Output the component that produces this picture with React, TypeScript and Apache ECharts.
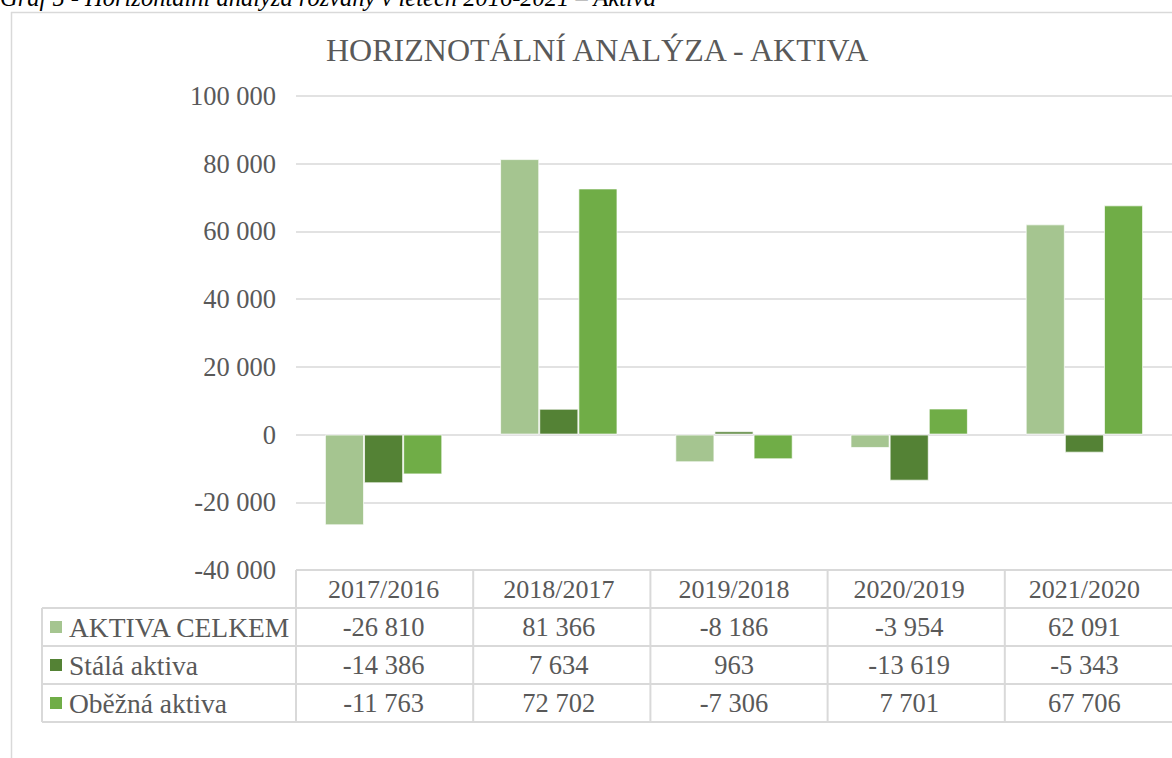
import React, { useEffect, useRef } from "react";
import * as echarts from "echarts";

const categories = ["2017/2016", "2018/2017", "2019/2018", "2020/2019", "2021/2020"];
const seriesNames = ["AKTIVA CELKEM", "Stálá aktiva", "Oběžná aktiva"];
const aktivaCelkem = [-26810, 81366, -8186, -3954, 62091];
const stalaAktiva = [-14386, 7634, 963, -13619, -5343];
const obeznaAktiva = [-11763, 72702, -7306, 7701, 67706];
const seriesColors = ["#A5C590", "#548235", "#70AD47"];
const yMin = -40000;
const yMax = 100000;
const yInterval = 20000;
const titleText = "HORIZNOTÁLNÍ ANALÝZA - AKTIVA";
const captionText = "Graf 5 - Horizontální analýza rozvahy v letech 2016-2021 – Aktiva";

const FONT = "'Liberation Serif', 'Times New Roman', serif";
const TXT = "#595959";
const LINE = "#D9D9D9";

function fmt(n: number): string {
  const s = Math.abs(n).toString().replace(/\B(?=(\d{3})+(?!\d))/g, " ");
  return (n < 0 ? "-" : "") + s;
}

export default function App() {
  const ref = useRef<HTMLDivElement>(null);
  useEffect(() => {
    if (!ref.current) return;
    const chart = echarts.init(ref.current, null, { renderer: "svg" });
    const allSeries = [aktivaCelkem, stalaAktiva, obeznaAktiva];
    const gridLeft = 296;
    const gridTop = 96;
    const gridWidth = 886;
    const gridHeight = 474;
    chart.setOption({
      animation: false,
      backgroundColor: "#fff",
      title: {
        text: titleText,
        left: 321,
        top: 29,
        textStyle: { fontFamily: FONT, fontSize: 32, fontWeight: "normal", color: TXT },
      },
      grid: { left: gridLeft, top: gridTop, width: gridWidth, height: gridHeight },
      xAxis: {
        type: "category",
        data: categories,
        axisLine: { show: false },
        axisTick: { show: false },
        axisLabel: { margin: 6, fontFamily: FONT, fontSize: 26, color: TXT },
      },
      yAxis: {
        type: "value",
        min: yMin,
        max: yMax,
        interval: yInterval,
        axisLine: { show: false },
        axisTick: { show: false },
        splitLine: { lineStyle: { color: LINE, width: 1.5 } },
        axisLabel: {
          margin: 20,
          fontFamily: FONT,
          fontSize: 26.5,
          color: TXT,
          formatter: (v: number) => fmt(v),
        },
      },
      series: allSeries.map((d, i) => ({
        type: "bar",
        name: seriesNames[i],
        data: d,
        barGap: "0%",
        barCategoryGap: "33%",
        itemStyle: { color: seriesColors[i], borderColor: "rgba(255,255,255,0.7)", borderWidth: 1 },
      })),
    });

    const tableTop = 570;
    const rowH = 38;
    const tableLeft = 42;
    const colXs = categories.map((_, i) => chart.convertToPixel({ xAxisIndex: 0 }, i) as number);
    const catW = gridWidth / categories.length;
    const tableRight = gridLeft + gridWidth;
    const graphic: any[] = [];
    // frame
    graphic.push({ type: "line", shape: { x1: 11.5, y1: 12, x2: 11.5, y2: 758 }, style: { stroke: LINE, lineWidth: 1.5 } });
    graphic.push({ type: "line", shape: { x1: 11, y1: 12.5, x2: 1172, y2: 12.5 }, style: { stroke: LINE, lineWidth: 1.5 } });
    // caption (cut off at the top edge as in the reference)
    graphic.push({
      type: "text",
      x: 0,
      y: -3,
      style: { text: captionText, font: `italic 24.5px ${FONT}`, fill: "#000", verticalAlign: "middle", align: "left" },
    });
    // table horizontal lines
    graphic.push({ type: "line", shape: { x1: gridLeft, y1: tableTop, x2: tableRight, y2: tableTop }, style: { stroke: LINE, lineWidth: 2 } });
    for (let r = 0; r <= seriesNames.length; r++) {
      const y = tableTop + rowH * (r + 1);
      graphic.push({ type: "line", shape: { x1: tableLeft, y1: y, x2: tableRight, y2: y }, style: { stroke: LINE, lineWidth: 2 } });
    }
    const tableBottom = tableTop + rowH * (seriesNames.length + 1);
    for (let c = 0; c <= categories.length; c++) {
      const x = gridLeft + c * catW;
      graphic.push({ type: "line", shape: { x1: x, y1: tableTop, x2: x, y2: tableBottom }, style: { stroke: LINE, lineWidth: 2 } });
    }
    graphic.push({ type: "line", shape: { x1: tableLeft, y1: tableTop + rowH, x2: tableLeft, y2: tableBottom }, style: { stroke: LINE, lineWidth: 2 } });
    // rows
    seriesNames.forEach((name, r) => {
      const cy = tableTop + rowH * (r + 1) + rowH / 2;
      graphic.push({ type: "rect", shape: { x: 50, y: cy - 6, width: 12, height: 12 }, style: { fill: seriesColors[r] } });
      graphic.push({
        type: "text",
        x: 69,
        y: cy,
        style: { text: name, font: `27.5px ${FONT}`, fill: TXT, verticalAlign: "middle", align: "left" },
      });
      allSeries[r].forEach((v, c) => {
        graphic.push({
          type: "text",
          x: colXs[c],
          y: cy,
          style: { text: fmt(v), font: `26.5px ${FONT}`, fill: TXT, verticalAlign: "middle", align: "center" },
        });
      });
    });
    chart.setOption({ graphic });
    return () => chart.dispose();
  }, []);
  return <div ref={ref} style={{ position: "absolute", left: 0, top: 0, width: 1172, height: 758 }} />;
}
